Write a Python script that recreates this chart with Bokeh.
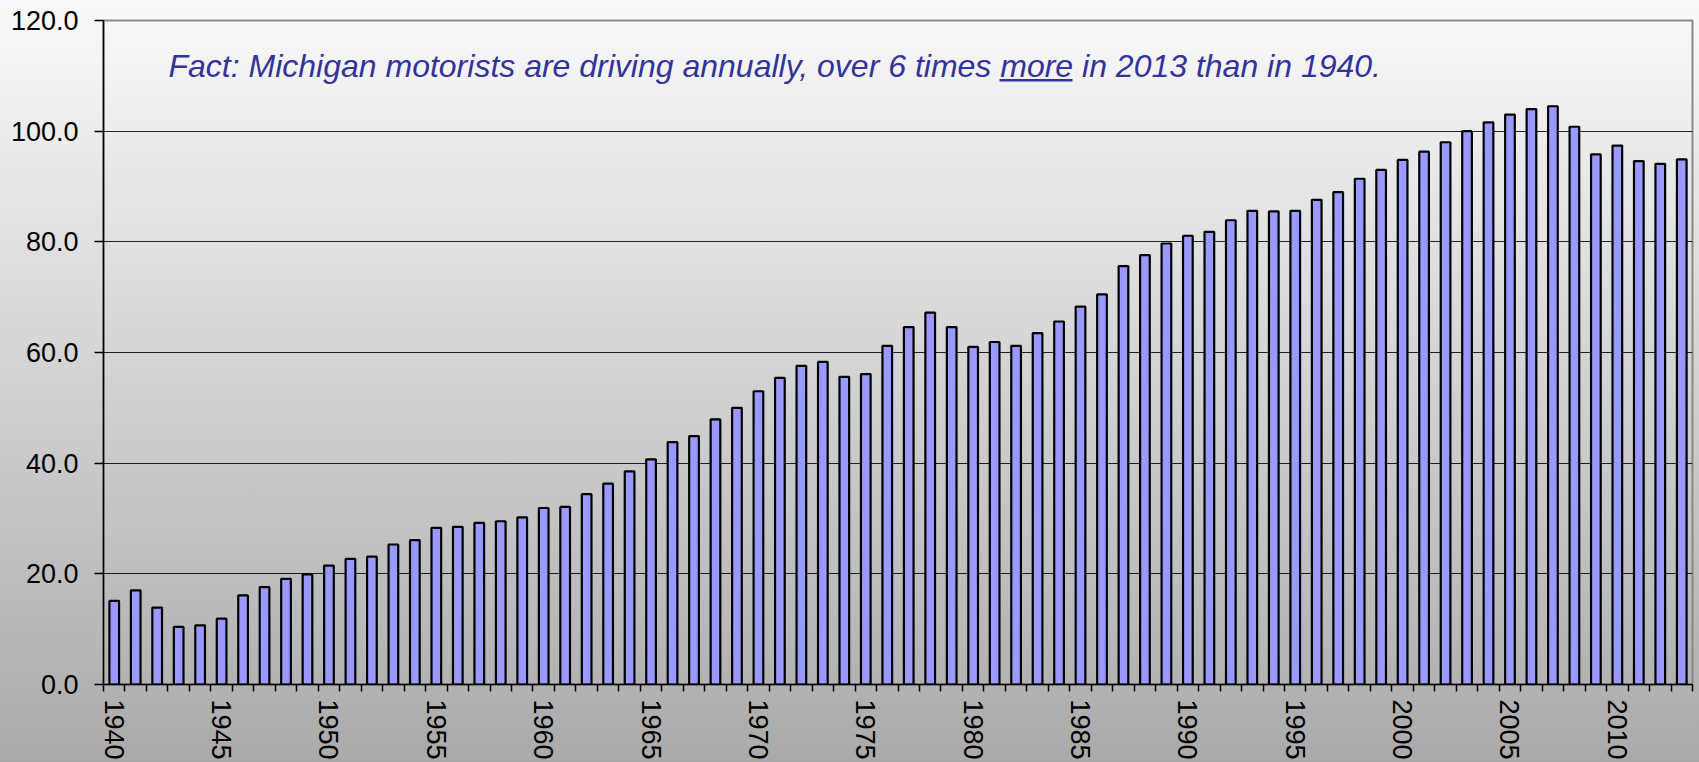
import math
from bokeh.plotting import figure
from bokeh.models import Range1d, FixedTicker, PrintfTickFormatter, Label, ColumnDataSource
from bokeh.embed import file_html
from bokeh.resources import INLINE

# ---- data ----
years = list(range(1940, 2014))
miles = [
    15.1, 17.0, 13.9, 10.4, 10.7, 11.9, 16.1, 17.6, 19.1, 19.9,   # 1940-49
    21.5, 22.7, 23.1, 25.3, 26.1, 28.3, 28.5, 29.2, 29.5, 30.2,   # 1950-59
    31.9, 32.1, 34.4, 36.3, 38.5, 40.7, 43.8, 44.9, 47.9, 50.0,   # 1960-69
    53.0, 55.4, 57.6, 58.3, 55.6, 56.1, 61.2, 64.6, 67.2, 64.6,   # 1970-79
    61.0, 61.9, 61.2, 63.5, 65.6, 68.3, 70.5, 75.6, 77.6, 79.7,   # 1980-89
    81.1, 81.8, 83.9, 85.6, 85.5, 85.6, 87.6, 89.0, 91.4, 93.0,   # 1990-99
    94.8, 96.3, 98.0, 100.0, 101.6, 103.0, 104.0, 104.5, 100.8, 95.8,  # 2000-09
    97.4, 94.6, 94.1, 94.9,                                        # 2010-13
]
y_ticks = [0, 20, 40, 60, 80, 100, 120]
x_label_years = list(range(1940, 2014, 5))
title_text = "Fact: Michigan motorists are driving annually, over 6 times more in 2013 than in 1940."

# ---- layout constants ----
W, H = 1699, 762
BL, BR, BT = 103, 7, 20
FRAME_W = W - BL - BR
X0, X1 = years[0] - 0.5, years[-1] + 0.5
PX2X = (X1 - X0) / FRAME_W
FONT = "Liberation Sans"

p = figure(width=W, height=H, output_backend="svg", toolbar_location=None,
           x_range=Range1d(X0, X1), y_range=Range1d(0, 120),
           min_border_left=BL, min_border_right=BR, min_border_top=BT,
           min_border_bottom=10)
p.styles = {"background": "linear-gradient(to bottom, #fafafa 0%, #aaaaaa 100%)"}
p.border_fill_alpha = 0
p.background_fill_alpha = 0
p.outline_line_color = "#888888"
p.outline_line_width = 2

src = ColumnDataSource(dict(year=years, miles=miles))
p.vbar(x="year", top="miles", width=0.45, source=src,
       fill_color="#9999ff", line_color="black", line_width=2.2)

# y axis
p.yaxis.ticker = FixedTicker(ticks=y_ticks)
p.yaxis.formatter = PrintfTickFormatter(format="%.1f")
p.yaxis.major_label_text_font = FONT
p.yaxis.major_label_text_font_size = "27px"
p.yaxis.major_label_text_color = "black"
p.yaxis.major_tick_out = 9
p.yaxis.major_tick_in = 0
p.yaxis.minor_tick_out = 0
p.yaxis.minor_tick_in = 0
p.yaxis.major_label_standoff = 16
p.yaxis.axis_line_color = "black"
p.yaxis.axis_line_width = 1.5
p.yaxis.major_tick_line_color = "black"
p.yaxis.major_tick_line_width = 1.5

# x axis
p.xaxis.ticker = FixedTicker(ticks=x_label_years,
                             minor_ticks=[y - 0.5 for y in years] + [years[-1] + 0.5])
p.xaxis.major_label_orientation = -math.pi / 2
p.xaxis.major_label_text_font = FONT
p.xaxis.major_label_text_font_size = "27px"
p.xaxis.major_label_text_color = "black"
p.xaxis.major_tick_out = 0
p.xaxis.major_tick_in = 0
p.xaxis.minor_tick_out = 7
p.xaxis.minor_tick_in = 0
p.xaxis.minor_tick_line_color = "black"
p.xaxis.minor_tick_line_width = 1.5
p.xaxis.major_label_standoff = 8
p.xaxis.axis_line_color = "black"
p.xaxis.axis_line_width = 1.5

p.xgrid.grid_line_color = None
p.ygrid.ticker = FixedTicker(ticks=y_ticks)
p.ygrid.grid_line_color = "black"
p.ygrid.grid_line_width = 1
p.ygrid.grid_line_alpha = 0.85

# annotation text
tx = X0 + 65 * PX2X
p.add_layout(Label(x=tx, y=111.8, text=title_text, text_font=FONT,
                   text_font_size="32px", text_font_style="italic",
                   text_color="#333399", text_baseline="alphabetic"))
# underline of "more"
u_start_px = 831
u_len_px = 73
p.segment(x0=[tx + u_start_px * PX2X], y0=[109.2],
          x1=[tx + (u_start_px + u_len_px) * PX2X], y1=[109.2],
          line_color="#333399", line_width=2.5)

open("out.html", "w").write(file_html(p, INLINE))
